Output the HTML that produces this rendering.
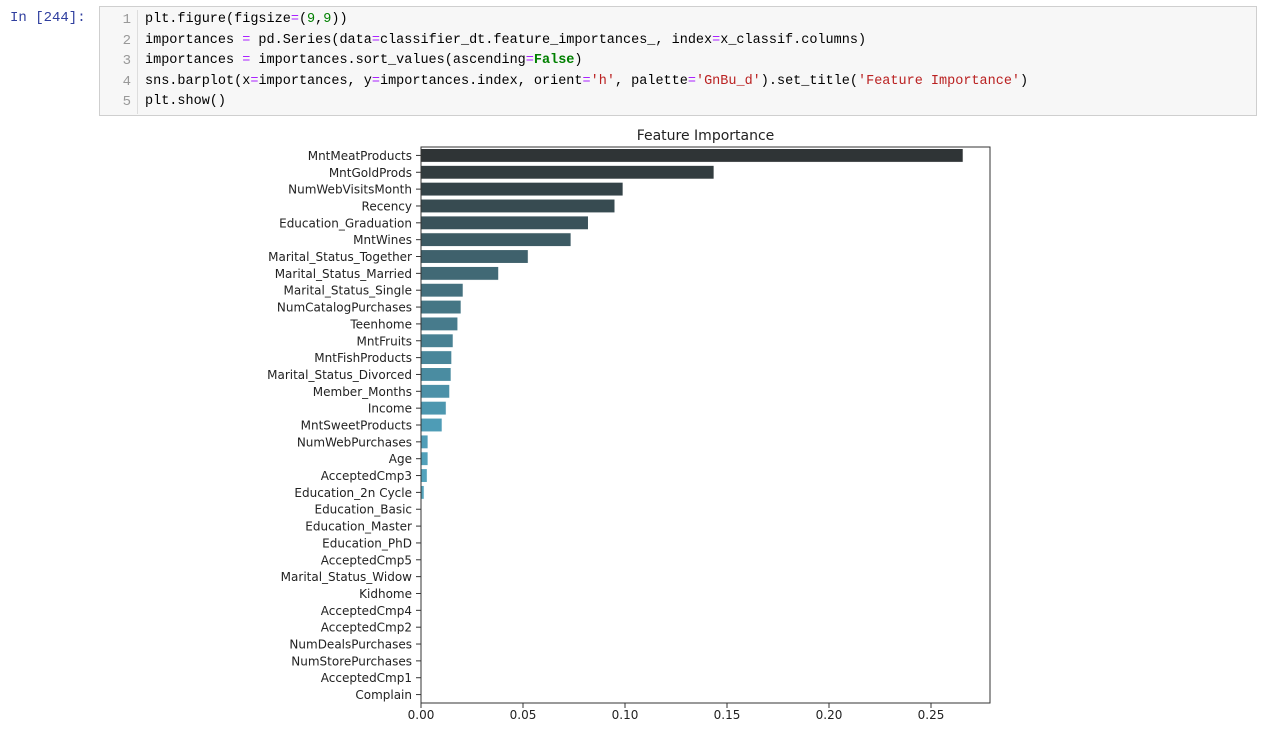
<!DOCTYPE html>
<html><head><meta charset="utf-8"><style>
body{margin:0;width:1278px;height:738px;background:#fff;overflow:hidden;position:relative;font-family:"DejaVu Sans","Liberation Sans",sans-serif}
#prompt{position:absolute;left:10px;top:10px;font:14px "Liberation Mono",monospace;color:#303f9f}
#cell{position:absolute;left:99px;top:6px;width:1158px;height:110px;background:#f7f7f7;border:1px solid #cfcfcf;box-sizing:border-box}
#gutter{position:absolute;left:0;top:3px;width:38px;border-right:1px solid #ddd;height:104px;text-align:right;font:14px "Liberation Mono",monospace;color:#999;line-height:20.5px;padding-right:6px;box-sizing:border-box}
#code{position:absolute;left:45px;top:3px;font:13.5px "Liberation Mono",monospace;line-height:20.5px;white-space:pre;color:#000}
.o{color:#aa22ff}.n{color:#008000}.k{color:#008000;font-weight:bold}.s{color:#ba2121}
</style></head><body>
<div id="prompt">In [244]:</div>
<div id="cell">
<div id="gutter">1<br>2<br>3<br>4<br>5</div>
<div id="code">plt.figure(figsize<span class="o">=</span>(<span class="n">9</span>,<span class="n">9</span>))
importances <span class="o">=</span> pd.Series(data<span class="o">=</span>classifier_dt.feature_importances_, index<span class="o">=</span>x_classif.columns)
importances <span class="o">=</span> importances.sort_values(ascending<span class="o">=</span><span class="k">False</span>)
sns.barplot(x<span class="o">=</span>importances, y<span class="o">=</span>importances.index, orient<span class="o">=</span><span class="s">'h'</span>, palette<span class="o">=</span><span class="s">'GnBu_d'</span>).set_title(<span class="s">'Feature Importance'</span>)
plt.show()</div>
</div>
<svg id="chart" width="1278" height="738" style="position:absolute;left:0;top:0"></svg>
<script>
const categories=["MntMeatProducts","MntGoldProds","NumWebVisitsMonth","Recency","Education_Graduation","MntWines","Marital_Status_Together","Marital_Status_Married","Marital_Status_Single","NumCatalogPurchases","Teenhome","MntFruits","MntFishProducts","Marital_Status_Divorced","Member_Months","Income","MntSweetProducts","NumWebPurchases","Age","AcceptedCmp3","Education_2n Cycle","Education_Basic","Education_Master","Education_PhD","AcceptedCmp5","Marital_Status_Widow","Kidhome","AcceptedCmp4","AcceptedCmp2","NumDealsPurchases","NumStorePurchases","AcceptedCmp1","Complain"];
const values=[0.2657,0.1436,0.099,0.095,0.082,0.0735,0.0525,0.038,0.0206,0.0196,0.018,0.0157,0.015,0.0147,0.014,0.0123,0.0103,0.0034,0.0034,0.003,0.0015,0,0,0,0,0,0,0,0,0,0,0,0];
const xTicks=[0,0.05,0.1,0.15,0.2,0.25];
const xTickLabels=["0.00","0.05","0.10","0.15","0.20","0.25"];
const NS="http://www.w3.org/2000/svg";
const svg=document.getElementById('chart');
const L=421,R=990,T=147,B=703;
const xs=v=>L+v*2040;
const band=(B-T)/categories.length;
const ys=i=>T+i*band;
function mk(t,a){const e=document.createElementNS(NS,t);for(const k in a)e.setAttribute(k,a[k]);svg.appendChild(e);return e;}
const stops=[[0,[47,52,54]],[0.25,[68,112,126]],[0.5,[78,156,182]],[0.625,[85,165,190]],[1,[110,190,215]]];
function pal(f){for(let k=1;k<stops.length;k++){if(f<=stops[k][0]){const a=stops[k-1],b=stops[k];const u=(f-a[0])/(b[0]-a[0]);return 'rgb('+a[1].map((v,j)=>Math.round(v+(b[1][j]-v)*u)).join(',')+')';}}return 'rgb(110,190,215)';}
categories.forEach((c,i)=>{
  const col=pal(i/(categories.length-1));
  const w=xs(values[i])-L;
  if(w>0){const r=mk('rect',{x:L,y:ys(i)+band*0.1,width:w,height:band*0.8,fill:col,stroke:'#fff','stroke-width':0.6});
  
  }
  const cy=ys(i)+band/2;
  mk('line',{x1:L-5,x2:L,y1:cy,y2:cy,stroke:'#333','stroke-width':1});
  const t=mk('text',{x:412,y:cy+4.5,'text-anchor':'end','font-size':12,fill:'#222'});
  t.textContent=c;
  
  
});
xTicks.forEach((v,i)=>{
  const x=xs(v);
  mk('line',{x1:x,x2:x,y1:B,y2:B+5,stroke:'#333','stroke-width':1});
  const t=mk('text',{x:x,y:B+16,'text-anchor':'middle','font-size':12,fill:'#222'});
  t.textContent=xTickLabels[i];
  
  
});
const fr=mk('rect',{x:L,y:T,width:R-L,height:B-T,fill:'none',stroke:'#333','stroke-width':1});


const tt=mk('text',{x:(L+R)/2,y:140,'text-anchor':'middle','font-size':14,fill:'#222'});
tt.textContent='Feature Importance';


</script>
</body></html>
